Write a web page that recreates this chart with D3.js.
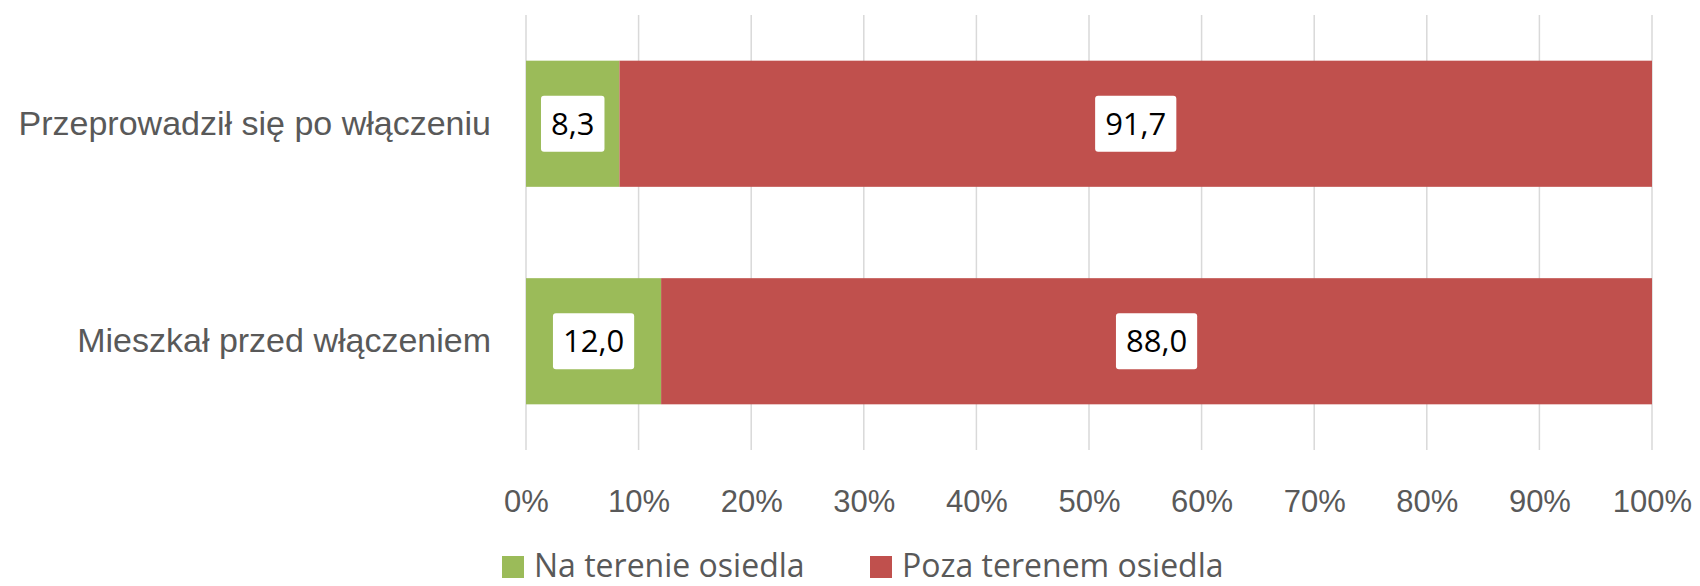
<!DOCTYPE html>
<html>
<head>
<meta charset="utf-8">
<script src="https://cdn.jsdelivr.net/npm/d3@7"></script>
<style>
  body { margin: 0; background: #fff; }
  svg { display: block; font-family: "Open Sans", sans-serif; }
</style>
</head>
<body>
<div id="chart"></div>
<script>
const categories = ["Przeprowadził się po włączeniu", "Mieszkał przed włączeniem"];
const seriesNames = ["Na terenie osiedla", "Poza terenem osiedla"];
const naTerenie = [8.3, 12.0];
const pozaTerenem = [91.7, 88.0];
const ticks = [0, 10, 20, 30, 40, 50, 60, 70, 80, 90, 100];
const colors = ["#9BBB59", "#C0504D"];

const width = 1700;
const height = 586;
const margin = { top: 15, right: 48, bottom: 136, left: 526 };

const svg = d3.select("#chart")
  .append("svg")
  .attr("width", width)
  .attr("height", height);

const x = d3.scaleLinear()
  .domain([0, 100])
  .range([margin.left, width - margin.right]);

const y = d3.scaleBand()
  .domain(categories)
  .range([margin.top, height - margin.bottom])
  .paddingInner(0.42)
  .paddingOuter(0.21);

// siatka pionowa
svg.append("g")
  .selectAll("line")
  .data(ticks)
  .join("line")
  .attr("x1", d => x(d))
  .attr("x2", d => x(d))
  .attr("y1", margin.top)
  .attr("y2", height - margin.bottom)
  .attr("stroke", "#d9d9d9")
  .attr("stroke-width", 1.5);

// oś X
const xAxis = svg.append("g")
  .attr("transform", `translate(0, ${height - margin.bottom})`)
  .call(d3.axisBottom(x).tickValues(ticks).tickSize(0).tickPadding(40).tickFormat(d => d + "%"));
xAxis.select(".domain").remove();
xAxis.selectAll("text")
  .attr("fill", "#595959")
  .style("font-size", "31px");

// oś Y
const yAxis = svg.append("g")
  .attr("transform", `translate(${margin.left}, 0)`)
  .call(d3.axisLeft(y).tickSize(0).tickPadding(35));
yAxis.select(".domain").remove();
yAxis.selectAll("text")
  .attr("fill", "#595959")
  .style("font-size", "34px");

const stacked = categories.map((c, i) => {
  const vals = [naTerenie[i], pozaTerenem[i]];
  let acc = 0;
  return vals.map((v, k) => {
    const d = { cat: c, key: k, value: v, x0: acc, x1: acc + v };
    acc += v;
    return d;
  });
}).flat();

svg.append("g")
  .selectAll("rect")
  .data(stacked)
  .join("rect")
  .attr("x", d => x(d.x0))
  .attr("y", d => y(d.cat))
  .attr("width", d => x(d.x1) - x(d.x0))
  .attr("height", y.bandwidth())
  .attr("fill", d => colors[d.key]);

// etykiety danych
const labels = svg.append("g")
  .selectAll("g")
  .data(stacked)
  .join("g")
  .attr("transform", d => `translate(${(x(d.x0) + x(d.x1)) / 2}, ${y(d.cat) + y.bandwidth() / 2})`);

labels.append("text")
  .attr("text-anchor", "middle")
  .attr("dy", "0.35em")
  .attr("fill", "#000")
  .style("font-size", "31px")
  .text(d => d.value.toFixed(1).replace(".", ","));

labels.each(function () {
  const g = d3.select(this);
  const w = g.select("text").node().getComputedTextLength() + 20;
  g.insert("rect", "text")
    .attr("x", -w / 2)
    .attr("y", -28)
    .attr("width", w)
    .attr("height", 56)
    .attr("rx", 3)
    .attr("fill", "#fff");
});

// legenda
const legend = svg.append("g")
  .attr("transform", `translate(0, 566)`);

const legendX = [502, 870];
seriesNames.forEach((name, i) => {
  const item = legend.append("g").attr("transform", `translate(${legendX[i]}, 0)`);
  item.append("rect")
    .attr("x", 0)
    .attr("y", -10)
    .attr("width", 22)
    .attr("height", 22)
    .attr("fill", colors[i]);
  item.append("text")
    .attr("x", 32)
    .attr("dy", "0.35em")
    .attr("fill", "#595959")
    .style("font-size", "32px")
    .text(name);
});
</script>
</body>
</html>
